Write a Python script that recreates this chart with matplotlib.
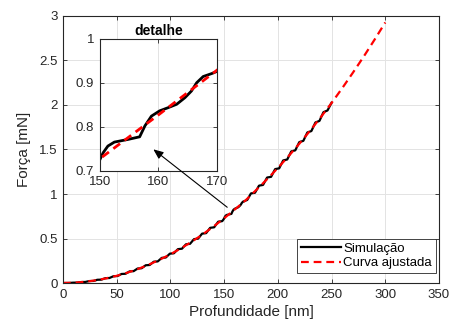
import matplotlib
matplotlib.use("Agg")
import matplotlib.pyplot as plt
from matplotlib.ticker import FormatStrFormatter

plt.rcParams["font.family"] = ["Liberation Sans", "DejaVu Sans"]

# simulated force curve (wiggly)
h_sim = [0, 2.0, 5.75, 9.5, 13.25, 17.0, 20.75, 24.5, 28.25, 32.0, 35.75, 39.5, 43.25,
         47.0, 50.75, 54.5, 58.25, 62.0, 65.75, 69.5, 73.25, 77.0, 80.75, 84.5, 88.25,
         92.0, 95.75, 99.5, 103.25, 107.0, 110.75, 114.5, 118.25, 122.0, 125.75, 129.5,
         133.25, 137.0, 140.75, 144.5, 148.25,
         150.0, 150.6, 151.4, 152.5, 154.8, 156.8, 157.7, 158.8, 160.2, 161.6, 163.1,
         164.5, 165.6, 166.5, 167.6, 169.1, 170.0,
         171.5, 175.0, 178.75, 182.5, 186.25, 190.0, 193.75, 197.5, 201.25, 205.0,
         208.75, 212.5, 216.25, 220.0, 223.75, 227.5, 231.25, 235.0, 238.75, 242.5,
         246.25, 250.0]
F_sim = [0, 0.0003, 0.0005, 0.0039, 0.0043, 0.0110, 0.0118, 0.0218, 0.0230, 0.0363,
         0.0377, 0.0543, 0.0561, 0.0761, 0.0781, 0.1014, 0.1038, 0.1304, 0.1331, 0.1630,
         0.1660, 0.1992, 0.2025, 0.2391, 0.2427, 0.2826, 0.2866, 0.3297, 0.3340, 0.3805,
         0.3851, 0.4349, 0.4398, 0.4930, 0.4982, 0.5546, 0.5602, 0.6199, 0.6258, 0.6889,
         0.6951,
         0.724, 0.741, 0.756, 0.765, 0.771, 0.777, 0.802, 0.824, 0.836, 0.843, 0.851,
         0.866, 0.881, 0.900, 0.914, 0.921, 0.926,
         0.933, 1.0067, 1.0140, 1.0938, 1.1019, 1.1850, 1.1931, 1.2797, 1.2882, 1.3774,
         1.3875, 1.4785, 1.4905, 1.5833, 1.5971, 1.6917, 1.7073, 1.8038, 1.8212, 1.9194,
         1.9386, 2.025]

# fitted curve
h_fit = [0, 10, 20, 30, 40, 50, 60, 70, 80, 90, 100, 110, 120, 130, 140, 150, 160,
         170, 180, 190, 200, 210, 220, 230, 240, 250, 260, 270, 280, 290, 300]
F_fit = [0, 0.0032, 0.0129, 0.0291, 0.0517, 0.0808, 0.1163, 0.1583, 0.2067, 0.2616,
         0.3230, 0.3908, 0.4651, 0.5459, 0.6331, 0.7268, 0.8269, 0.9290, 1.0465, 1.1660,
         1.2920, 1.4250, 1.5645, 1.7105, 1.8630, 2.0220, 2.1900, 2.3650, 2.5450, 2.7330,
         2.9270]

labels = ["Simulação", "Curva ajustada"]
dark = "#262626"
gridc = "#e3e3e3"


def style(ax, size):
    for s in ax.spines.values():
        s.set_color(dark); s.set_linewidth(0.8)
    ax.tick_params(direction="in", top=True, right=True, length=3, width=0.6,
                   colors=dark, labelsize=size, pad=4)
    ax.grid(True, color=gridc, linewidth=0.7)
    ax.set_axisbelow(True)


fig = plt.figure(figsize=(4.53, 3.29), dpi=100)
ax = fig.add_axes([0.139, 0.1398, 0.830, 0.8116])
ax.plot(h_sim, F_sim, color="black", lw=1.6, label=labels[0])
ax.plot(h_fit, F_fit, color="red", lw=1.6, dashes=(3.5, 2.2), label=labels[1])
ax.set_xlim(0, 350); ax.set_ylim(0, 3)
ax.set_xticks([0, 50, 100, 150, 200, 250, 300, 350])
ax.set_yticks([0, 0.5, 1, 1.5, 2, 2.5, 3])
ax.yaxis.set_major_formatter(FormatStrFormatter("%g"))
style(ax, 9.5)
ax.set_xlabel("Profundidade [nm]", fontsize=11, color=dark, labelpad=3)
ax.set_ylabel("Força [mN]", fontsize=11, color=dark, labelpad=6)
leg = ax.legend(loc="lower right", bbox_to_anchor=(0.992, 0.037), fontsize=9.5,
                frameon=True, fancybox=False, framealpha=1, edgecolor=dark,
                handlelength=3.0, handletextpad=0.2, borderpad=0.3, labelspacing=0.15,
                borderaxespad=0)
leg.get_frame().set_linewidth(0.6)

ins = fig.add_axes([0.220, 0.4812, 0.2597, 0.4012])
ins.set_facecolor("white")
ins.plot(h_sim, F_sim, color="black", lw=2.0)
ins.plot(h_fit, F_fit, color="red", lw=2.0, dashes=(3.0, 2.0))
ins.set_xlim(150, 170); ins.set_ylim(0.7, 1)
ins.set_xticks([150, 160, 170]); ins.set_yticks([0.7, 0.8, 0.9, 1])
ins.yaxis.set_major_formatter(FormatStrFormatter("%g"))
style(ins, 9.5)
ins.set_title("detalhe", fontsize=10, fontweight="bold", color="black", pad=3)

# arrow from the main curve into the inset, drawn above the inset
ins.annotate("", xy=(84.1, 1.502), xycoords=ax.transData,
             xytext=(152.9, 0.851), textcoords=ax.transData, annotation_clip=False,
             arrowprops=dict(arrowstyle="-|>,head_length=0.6,head_width=0.25",
                             color="black", lw=0.8, shrinkA=0, shrinkB=0))

fig.savefig("out.png", dpi=100)
